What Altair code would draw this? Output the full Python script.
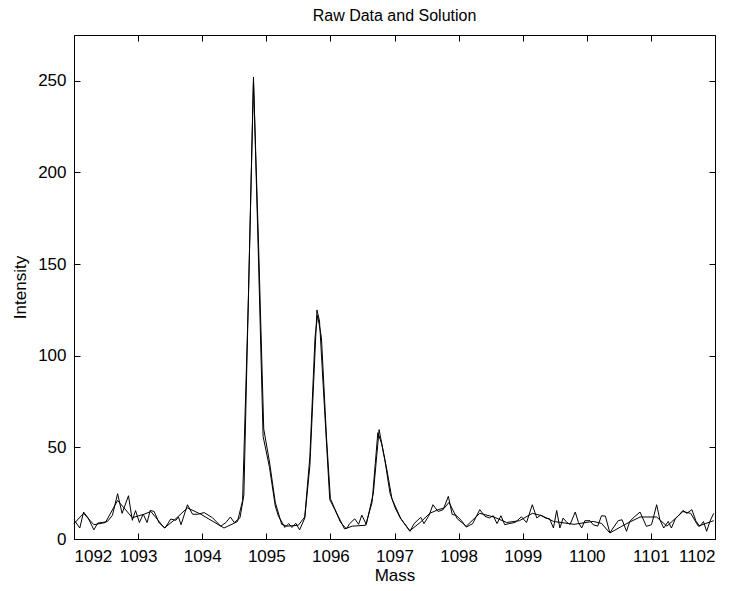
import altair as alt
import pandas as pd

# ---- data ----
raw_mass = [1092.00, 1092.09, 1092.15, 1092.22, 1092.31, 1092.37, 1092.44, 1092.52, 1092.60, 1092.68,
            1092.75, 1092.85, 1092.91, 1092.96, 1093.02, 1093.08, 1093.14, 1093.19, 1093.25, 1093.33,
            1093.42, 1093.51, 1093.59, 1093.63, 1093.67, 1093.77, 1093.85, 1093.93, 1094.03, 1094.16,
            1094.29, 1094.37, 1094.44, 1094.50, 1094.59, 1094.65, 1094.80, 1094.88, 1094.95, 1095.05,
            1095.14, 1095.19, 1095.29, 1095.35, 1095.40, 1095.46, 1095.52, 1095.60, 1095.68, 1095.79,
            1095.83, 1095.91, 1095.99, 1096.07, 1096.16, 1096.25, 1096.30, 1096.38, 1096.44, 1096.49,
            1096.56, 1096.67, 1096.76, 1096.85, 1096.93, 1097.01, 1097.09, 1097.24, 1097.31, 1097.41,
            1097.46, 1097.54, 1097.60, 1097.68, 1097.76, 1097.84, 1097.90, 1097.96, 1098.04, 1098.12,
            1098.22, 1098.33, 1098.41, 1098.48, 1098.54, 1098.60, 1098.66, 1098.72, 1098.80, 1098.88,
            1098.98, 1099.06, 1099.15, 1099.22, 1099.28, 1099.36, 1099.42, 1099.48, 1099.53, 1099.58,
            1099.63, 1099.69, 1099.74, 1099.82, 1099.87, 1099.92, 1099.97, 1100.05, 1100.10, 1100.17,
            1100.23, 1100.29, 1100.36, 1100.41, 1100.49, 1100.55, 1100.62, 1100.67, 1100.75, 1100.83,
            1100.93, 1101.01, 1101.09, 1101.14, 1101.20, 1101.27, 1101.32, 1101.38, 1101.43, 1101.50,
            1101.56, 1101.64, 1101.70, 1101.76, 1101.82, 1101.87, 1101.92, 1101.98]
raw_int = [10.5, 6.0, 14.7, 11.5, 5.0, 8.7, 9.0, 9.5, 13.0, 24.7,
           14.0, 23.6, 10.2, 15.5, 9.0, 13.6, 9.0, 15.6, 15.0, 8.7,
           6.0, 10.9, 10.2, 12.0, 7.8, 18.7, 13.5, 13.5, 14.4, 11.6,
           7.0, 9.0, 12.0, 9.0, 11.6, 24.0, 252.0, 150.0, 56.0, 39.0,
           18.0, 12.4, 6.3, 8.4, 6.3, 8.6, 5.0, 11.4, 40.0, 125.0,
           119.0, 70.0, 21.5, 16.0, 9.0, 5.5, 8.4, 11.0, 8.0, 13.0,
           8.0, 25.0, 59.7, 43.0, 25.0, 17.0, 11.5, 4.2, 8.6, 11.8,
           8.4, 13.0, 18.7, 15.0, 16.0, 23.3, 13.4, 13.0, 10.2, 6.5,
           8.4, 16.0, 12.4, 11.5, 12.7, 8.4, 12.7, 7.8, 8.5, 9.0,
           12.1, 9.0, 18.7, 11.5, 13.0, 11.4, 11.0, 6.0, 15.6, 6.0,
           11.4, 9.0, 8.0, 14.7, 9.0, 6.0, 10.0, 10.0, 7.8, 7.0,
           12.7, 12.5, 3.3, 6.0, 10.0, 10.5, 4.2, 9.6, 12.3, 14.7,
           6.9, 7.8, 18.7, 10.5, 6.0, 9.6, 6.0, 11.0, 12.7, 15.6,
           14.0, 16.0, 10.0, 6.9, 9.5, 4.2, 9.6, 14.0]

sol_mass = [1092.00, 1092.15, 1092.31, 1092.49, 1092.68, 1092.78, 1092.91, 1093.09, 1093.20, 1093.41,
            1093.57, 1093.77, 1093.98, 1094.34, 1094.55, 1094.63, 1094.72, 1094.80, 1094.88, 1094.96,
            1095.05, 1095.14, 1095.24, 1095.32, 1095.50, 1095.60, 1095.68, 1095.76, 1095.80, 1095.86,
            1095.94, 1096.00, 1096.10, 1096.22, 1096.34, 1096.55, 1096.65, 1096.74, 1096.80, 1096.88,
            1096.96, 1097.10, 1097.24, 1097.40, 1097.55, 1097.68, 1097.78, 1097.85, 1097.98, 1098.12,
            1098.33, 1098.55, 1098.75, 1098.95, 1099.15, 1099.30, 1099.48, 1099.80, 1100.10, 1100.23,
            1100.36, 1100.60, 1100.83, 1101.09, 1101.25, 1101.50, 1101.62, 1101.74, 1101.98]
sol_int = [8.4, 14.0, 7.8, 9.0, 21.0, 17.0, 11.6, 13.5, 15.0, 6.0,
           10.5, 17.0, 13.5, 6.0, 9.5, 21.0, 130.0, 250.0, 160.0, 60.0,
           42.0, 20.0, 8.0, 7.0, 7.5, 12.0, 45.0, 110.0, 122.0, 110.0,
           55.0, 22.0, 14.0, 5.5, 7.0, 7.5, 20.0, 58.0, 52.0, 38.0,
           22.0, 11.0, 4.5, 9.0, 14.0, 16.0, 17.0, 20.0, 11.0, 7.0,
           14.0, 12.0, 9.0, 10.0, 14.0, 12.7, 9.6, 8.0, 9.6, 8.5,
           3.3, 8.0, 12.0, 12.0, 7.0, 15.0, 14.0, 7.0, 10.0]

x_ticks = [1092, 1093, 1094, 1095, 1096, 1097, 1098, 1099, 1100, 1101, 1102]
y_ticks = [0, 50, 100, 150, 200, 250]
x_domain = [1092, 1102]
y_domain = [0, 275]

raw_df = pd.DataFrame({"Mass": raw_mass, "Intensity": raw_int})
sol_df = pd.DataFrame({"Mass": sol_mass, "Intensity": sol_int})

W, H = 641, 504
FONT = "Liberation Sans"

xscale = alt.Scale(domain=x_domain, nice=False, zero=False)
yscale = alt.Scale(domain=y_domain, nice=False)


def tick_axis(orient, values, offset):
    return alt.Axis(orient=orient, values=values, offset=offset, labels=False,
                    domain=False, grid=False, ticks=True, tickSize=6,
                    tickColor="black", tickWidth=1, title="")


raw = alt.Chart(raw_df).mark_line(color="black", strokeWidth=1).encode(
    x=alt.X("Mass:Q", scale=xscale,
            axis=alt.Axis(orient="bottom", values=x_ticks, format="d", title="Mass",
                          ticks=False, domain=False, grid=False,
                          labelFontSize=17, titleFontSize=17, labelPadding=9,
                          titlePadding=3, labelColor="black", titleColor="black",
                          titleFontWeight="normal", labelFont=FONT, titleFont=FONT)),
    y=alt.Y("Intensity:Q", scale=yscale,
            axis=alt.Axis(orient="left", values=y_ticks, format="d", title="Intensity",
                          ticks=False, domain=False, grid=False,
                          labelFontSize=17, titleFontSize=17, labelPadding=8,
                          titlePadding=8, labelColor="black", titleColor="black",
                          titleFontWeight="normal", labelFont=FONT, titleFont=FONT)),
)

sol = alt.Chart(sol_df).mark_line(color="black", strokeWidth=1).encode(
    x=alt.X("Mass:Q", scale=xscale, axis=tick_axis("top", x_ticks, -H)),
    y=alt.Y("Intensity:Q", scale=yscale, axis=tick_axis("right", y_ticks, -W)),
)

frame_ticks = alt.Chart(sol_df).mark_line(color="black", strokeOpacity=0).encode(
    x=alt.X("Mass:Q", scale=xscale, axis=tick_axis("bottom", x_ticks, -H)),
    y=alt.Y("Intensity:Q", scale=yscale, axis=tick_axis("left", y_ticks, -W)),
)

chart = alt.layer(raw, sol, frame_ticks).resolve_axis(
    x="independent", y="independent"
).properties(
    width=W, height=H,
    title=alt.TitleParams("Raw Data and Solution", fontSize=16, font=FONT,
                          fontWeight="normal", color="black", anchor="middle", offset=11),
    autosize=alt.AutoSizeParams(type="none"),
    padding={"left": 66, "top": 27, "right": 15, "bottom": 50},
).configure_view(stroke="black", strokeWidth=1)

chart.save("out.html", embed_options={"renderer": "svg", "actions": False})
